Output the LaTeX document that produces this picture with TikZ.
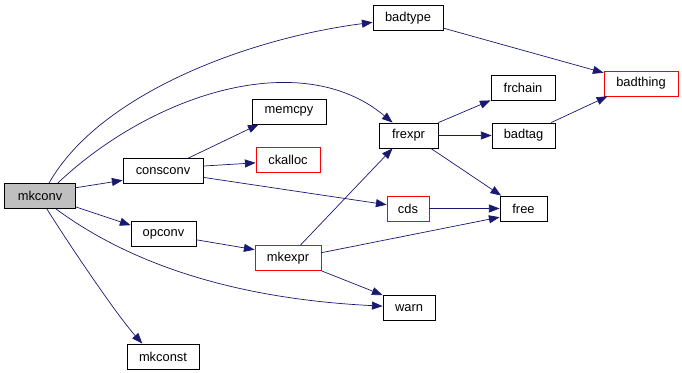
\documentclass[tikz,border=0pt]{standalone}
\usepackage{fontspec}
\setmainfont{Liberation Sans}
\usepackage{tikz}
\usetikzlibrary{arrows.meta}
\definecolor{edgeblue}{RGB}{25,25,112}
\definecolor{nodegrey}{RGB}{191,191,191}
\definecolor{nodered}{RGB}{255,0,0}

\begin{document}
\begin{tikzpicture}[
      x=0.03cm, y=0.03cm,
      box/.style={draw, line width=0.7pt, fill=white, minimum width=#1,
                  minimum height=0.75cm, inner sep=0pt,
                  font=\fontsize{11}{13}\selectfont},
      redbox/.style={box=#1, draw=nodered},
      arr/.style={-{Triangle[length=3.2mm, width=2.4mm]}, edgeblue, line width=0.6pt}
  ]
    \useasboundingbox (0,0) rectangle (682,373);

    % callers on the left
    \node[box=2.13cm, fill=nodegrey] (mkconv)   at (40,177)    {mkconv};
    \node[box=2.4cm]                 (consconv) at (163,202)   {consconv};
    \node[box=1.95cm]                (opconv)   at (163.5,139) {opconv};
    \node[box=2.16cm]                (mkconst)  at (163,16.5)  {mkconst};

    % middle column
    \node[box=2.22cm]    (memcpy)  at (289,261.5) {memcpy};
    \node[redbox=1.92cm] (ckalloc) at (288,213)   {ckalloc};
    \node[redbox=1.98cm] (mkexpr)  at (288,115)   {mkexpr};

    \node[box=2.1cm]     (badtype) at (408,355)   {badtype};
    \node[box=1.77cm]    (frexpr)  at (408.5,237.5) {frexpr};
    \node[redbox=1.26cm] (cds)     at (408,164.5) {cds};
    \node[box=1.56cm]    (warn)    at (409,65)    {warn};

    % right side
    \node[box=1.92cm]    (frchain)  at (523,285.5)   {frchain};
    \node[box=1.89cm]    (badtag)   at (523.5,237.5) {badtag};
    \node[box=1.41cm]    (free)     at (523.5,164.5) {free};
    \node[redbox=2.22cm] (badthing) at (641,289.5)   {badthing};

    % calls of mkconv
    \draw[arr] (mkconv.55) .. controls (100,280) and (250,335) .. (badtype.187);
    \draw[arr] (mkconv.36) .. controls (152,279) and (301,327) .. (frexpr.141);
    \draw[arr] (mkconv.13)  -- (consconv.193);
    \draw[arr] (mkconv.-17) -- (opconv.165);
    \draw[arr] (mkconv.-39) .. controls (121,116) and (220,75) .. (warn.176);
    \draw[arr] (mkconv.-62) .. controls (65,135) and (115,60) .. (mkconst.148);

    \draw[arr] (consconv.27) -- (memcpy.203);
    \draw[arr] (consconv.7)  -- (ckalloc.185);
    \draw[arr] (consconv.-9) -- (cds.170);
    \draw[arr] (opconv.-10)  -- (mkexpr.166);

    \draw[arr] (mkexpr.46)  -- (frexpr.219);
    \draw[arr] (mkexpr.9)   -- (free.200);
    \draw[arr] (mkexpr.-21) -- (warn.north west);
    \draw[arr] (cds.east)   -- (free.west);

    \draw[arr] (frexpr.north east) -- (frchain.south west);
    \draw[arr] (frexpr.east) -- (badtag.west);
    \draw[arr] (frexpr.-30)  -- (free.150);

    \draw[arr] (badtype.-16) -- (badthing.164);
    \draw[arr] (badtag.25)   -- (badthing.201);
  \end{tikzpicture}
\end{document}
